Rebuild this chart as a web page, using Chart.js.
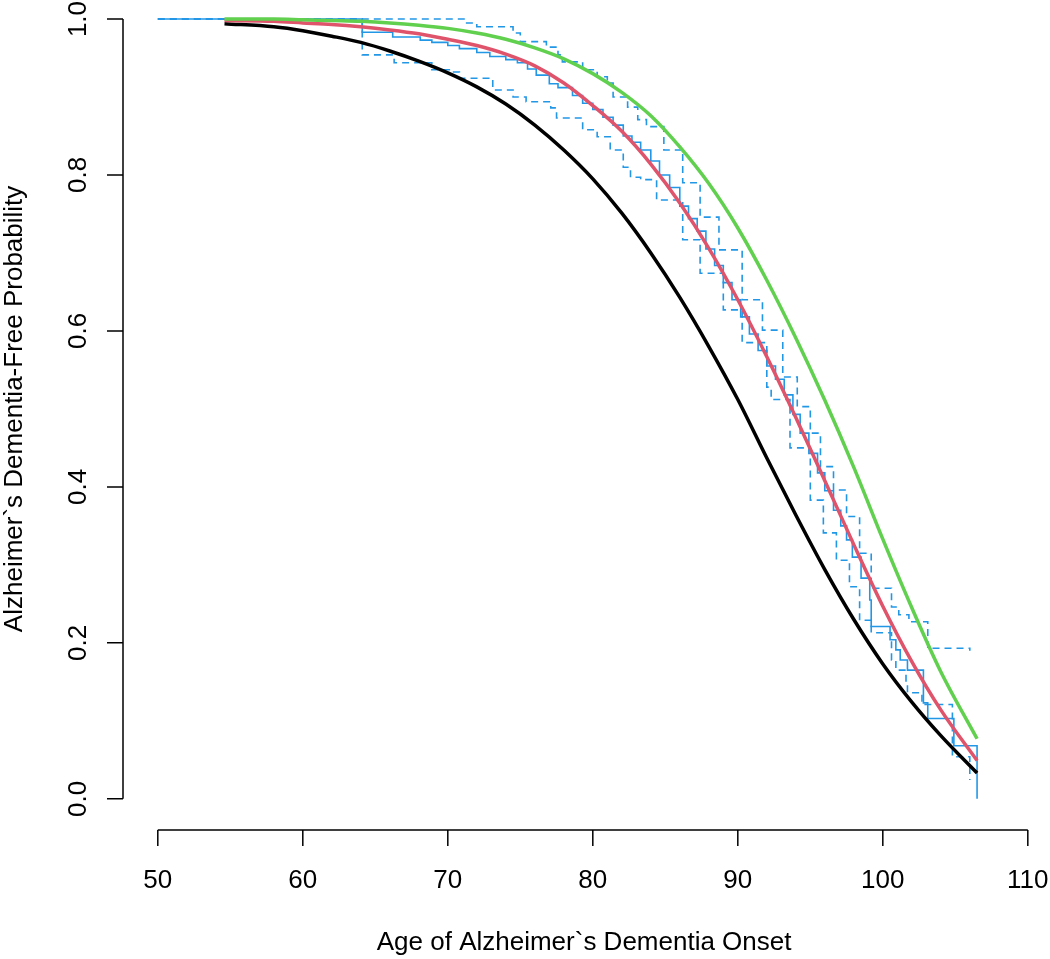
<!DOCTYPE html>
<html lang="en">
<head>
    <meta charset="UTF-8">
    <title>Alzheimer's Dementia-Free Probability</title>
    <script src="https://cdn.jsdelivr.net/npm/chart.js"></script>
    <style>
        body { margin: 0; background: #fff; overflow: hidden; }
        canvas { display: block; }
    </style>
</head>
<body>
    <canvas id="survChart" width="1050" height="959"></canvas>

    <script>
        // fitted curves (age -> dementia-free probability)
        const curveAges = [54.6, 58, 60, 62, 64, 66, 68, 70, 72, 74, 76, 78, 80, 82, 84, 86, 88, 90, 92, 94, 96, 98, 100, 102, 104, 106.5];
        const blackCurve = [0.994, 0.990, 0.985, 0.978, 0.970, 0.959, 0.946, 0.931, 0.913, 0.891, 0.864, 0.832, 0.795, 0.751,
            0.700, 0.643, 0.580, 0.512, 0.437, 0.364, 0.294, 0.230, 0.173, 0.124, 0.081, 0.033];
        const redCurve = [0.998, 0.997, 0.995, 0.993, 0.990, 0.986, 0.981, 0.974, 0.966, 0.955, 0.940, 0.918, 0.889, 0.856,
            0.814, 0.764, 0.706, 0.640, 0.567, 0.489, 0.408, 0.326, 0.247, 0.176, 0.114, 0.049];
        const greenCurve = [1.000, 1.000, 0.999, 0.998, 0.997, 0.995, 0.992, 0.988, 0.982, 0.974, 0.963, 0.949, 0.930, 0.906,
            0.876, 0.836, 0.789, 0.732, 0.665, 0.591, 0.511, 0.425, 0.333, 0.245, 0.163, 0.077];

        // Kaplan-Meier estimate (step function)
        const kmAges = [50, 64.1, 66.2, 68.1, 68.9, 70.0, 70.8, 72.0, 72.9, 74.0, 74.8, 75.5, 76.1, 77.0, 77.6, 78.6,
            79.3, 80.0, 80.7, 81.4, 82.1, 82.7, 83.3, 84.0, 84.6, 85.3, 86.0, 86.6, 87.2, 87.8, 88.4, 89.0, 89.6,
            90.2, 90.8, 91.4, 92.0, 92.6, 93.2, 93.8, 94.3, 94.9, 95.5, 96.0, 96.6, 97.1, 97.5, 97.9, 98.5, 99.1,
            99.2, 100.5, 100.9, 101.2, 101.7, 102.8, 103.1, 104.9, 106.5, 106.5];
        const kmSurv = [1.0, 0.983, 0.977, 0.973, 0.970, 0.966, 0.962, 0.957, 0.952, 0.948, 0.944, 0.936, 0.928, 0.917, 0.912, 0.902,
            0.892, 0.884, 0.874, 0.864, 0.850, 0.842, 0.832, 0.818, 0.800, 0.784, 0.760, 0.744, 0.728, 0.705, 0.684, 0.662, 0.640,
            0.618, 0.596, 0.575, 0.555, 0.538, 0.518, 0.493, 0.469, 0.443, 0.418, 0.395, 0.370, 0.350, 0.332, 0.310, 0.283, 0.255,
            0.221, 0.204, 0.191, 0.178, 0.165, 0.123, 0.103, 0.068, 0.068, 0.0];

        // confidence band
        const upperAges = [50, 71.3, 72.0, 74.5, 75.0, 76.8, 77.6, 77.9, 79.3, 80.3, 81.0, 81.4, 82.4, 83.1, 83.7, 84.9,
            86.2, 87.4, 88.7, 90.3, 91.7, 93.1, 94.1, 95.0, 95.7, 96.6, 97.5, 98.4, 99.2, 100.6, 101.1, 101.8, 103.1, 106.0];
        const upperSurv = [1.0, 0.995, 0.990, 0.982, 0.971, 0.964, 0.954, 0.945, 0.935, 0.926, 0.918, 0.900, 0.887, 0.871, 0.862, 0.832,
            0.790, 0.746, 0.704, 0.640, 0.601, 0.541, 0.503, 0.469, 0.426, 0.396, 0.362, 0.315, 0.270, 0.246, 0.236, 0.227, 0.193, 0.190];
        const lowerAges = [50, 64.1, 66.3, 68.9, 70.2, 70.8, 73.1, 74.5, 75.4, 77.1, 77.5, 79.3, 80.3, 81.2, 82.1, 82.6,
            83.3, 84.4, 86.2, 87.4, 89.0, 90.3, 92.0, 92.3, 93.6, 95.0, 95.9, 96.8, 97.7, 98.4, 99.2, 100.6, 100.9,
            101.6, 101.7, 102.7, 104.8, 106.0];
        const lowerSurv = [1.0, 0.954, 0.944, 0.935, 0.932, 0.924, 0.909, 0.900, 0.894, 0.886, 0.873, 0.858, 0.849, 0.832, 0.810, 0.797,
            0.794, 0.768, 0.717, 0.674, 0.627, 0.585, 0.528, 0.512, 0.450, 0.383, 0.341, 0.306, 0.272, 0.229, 0.213, 0.178, 0.165,
            0.149, 0.136, 0.121, 0.054, 0.024, 0.024];

        const xTicks = [50, 60, 70, 80, 90, 100, 110];
        const yTicks = [0.0, 0.2, 0.4, 0.6, 0.8, 1.0];
        const xTitle = 'Age of Alzheimer`s Dementia Onset';
        const yTitle = 'Alzheimer`s Dementia-Free Probability';

        const toPoints = (xs, ys) => xs.map((x, i) => ({ x: x, y: ys[i] }));
        const FONT = '26px "Liberation Sans", Arial, sans-serif';

        // R-style detached axes
        const rAxes = {
            id: 'rAxes',
            afterDraw(chart) {
                const c = chart.ctx;
                const xs = chart.scales.x, ys = chart.scales.y;
                const left = chart.chartArea.left, bottom = chart.chartArea.bottom;
                c.save();
                c.strokeStyle = '#000';
                c.fillStyle = '#000';
                c.lineWidth = 1.5;
                c.font = FONT;

                // y axis
                c.beginPath();
                c.moveTo(left, ys.getPixelForValue(0));
                c.lineTo(left, ys.getPixelForValue(1));
                yTicks.forEach(v => {
                    const py = ys.getPixelForValue(v);
                    c.moveTo(left, py);
                    c.lineTo(left - 16, py);
                });
                c.stroke();
                c.textAlign = 'center';
                c.textBaseline = 'middle';
                yTicks.forEach(v => {
                    c.save();
                    c.translate(79, ys.getPixelForValue(v));
                    c.rotate(-Math.PI / 2);
                    c.fillText(v.toFixed(1), 0, 0);
                    c.restore();
                });

                // x axis
                c.beginPath();
                c.moveTo(xs.getPixelForValue(50), bottom);
                c.lineTo(xs.getPixelForValue(110), bottom);
                xTicks.forEach(v => {
                    const px = xs.getPixelForValue(v);
                    c.moveTo(px, bottom);
                    c.lineTo(px, bottom + 16);
                });
                c.stroke();
                xTicks.forEach(v => c.fillText(String(v), xs.getPixelForValue(v), 881));

                // titles
                c.fillText(xTitle, xs.getPixelForValue(79.4), 943);
                c.save();
                c.translate(15, ys.getPixelForValue(0.5));
                c.rotate(-Math.PI / 2);
                c.fillText(yTitle, 0, 0);
                c.restore();
                c.restore();
            }
        };

        const ctx = document.getElementById('survChart').getContext('2d');
        new Chart(ctx, {
            type: 'line',
            data: {
                datasets: [
                    { data: toPoints(curveAges, greenCurve), borderColor: '#61D04F', borderWidth: 3.5, cubicInterpolationMode: 'monotone' },
                    { data: toPoints(curveAges, redCurve), borderColor: '#DF536B', borderWidth: 3.5, cubicInterpolationMode: 'monotone' },
                    { data: toPoints(curveAges, blackCurve), borderColor: '#000000', borderWidth: 3.5, cubicInterpolationMode: 'monotone' },
                    { data: toPoints(kmAges, kmSurv), borderColor: '#2297E6', borderWidth: 1.6, stepped: 'before' },
                    { data: toPoints(upperAges, upperSurv), borderColor: '#2297E6', borderWidth: 1.6, stepped: 'before', borderDash: [7, 5] },
                    { data: toPoints(lowerAges, lowerSurv), borderColor: '#2297E6', borderWidth: 1.6, stepped: 'before', borderDash: [7, 5] }
                ]
            },
            options: {
                responsive: false,
                animation: false,
                devicePixelRatio: 1,
                layout: { padding: { left: 123, top: 0, right: 0, bottom: 129 } },
                elements: { point: { radius: 0 } },
                scales: {
                    x: { type: 'linear', min: 47.6, max: 111.53, display: false },
                    y: { type: 'linear', min: -0.04, max: 1.0244, display: false }
                },
                plugins: { legend: { display: false }, tooltip: { enabled: false } }
            },
            plugins: [rAxes]
        });
    </script>
</body>
</html>
